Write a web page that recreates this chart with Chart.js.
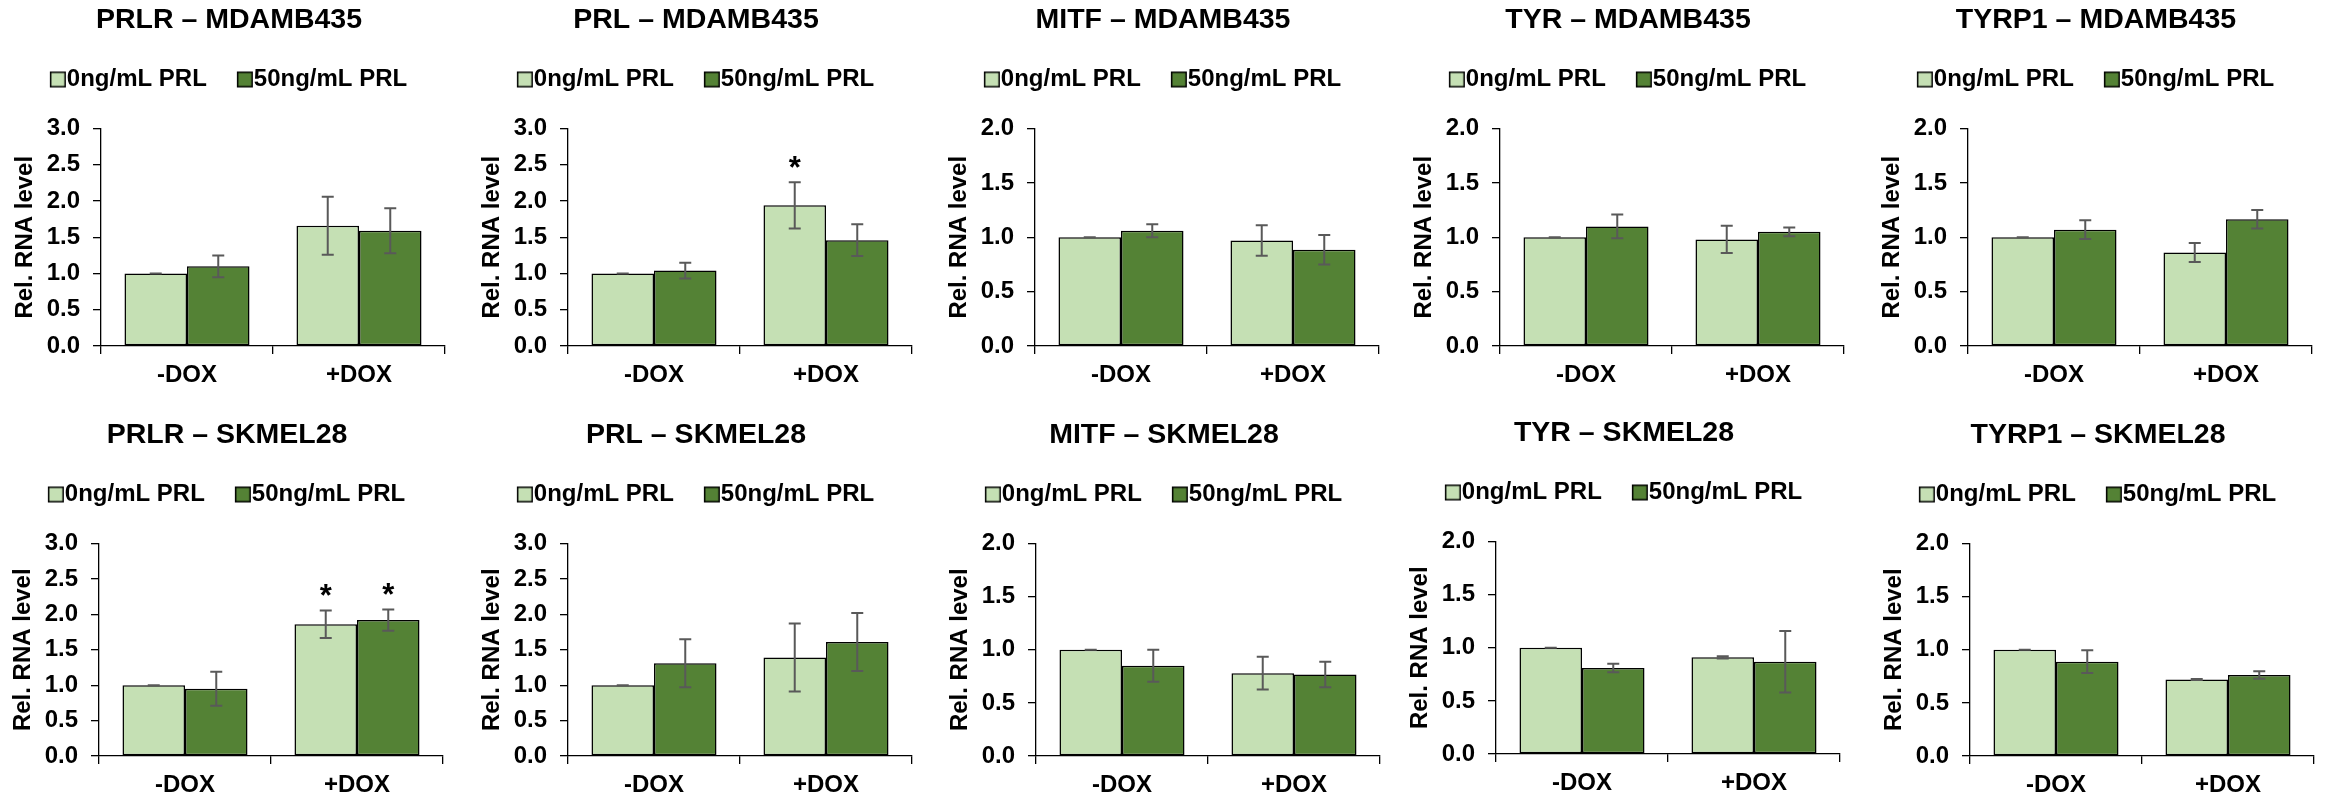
<!DOCTYPE html>
<html><head><meta charset="utf-8">
<script src="https://cdn.jsdelivr.net/npm/chart.js@4.4.1/dist/chart.umd.min.js"></script>
<style>
html,body{margin:0;padding:0;background:#fff;width:2336px;height:797px;overflow:hidden;position:relative}
canvas{position:absolute}
</style></head><body>
<script>
// ---- data ----
const categories = ['-DOX', '+DOX'];
const seriesNames = ['0ng/mL PRL', '50ng/mL PRL'];
const panelTitles = ['PRLR – MDAMB435', 'PRL – MDAMB435', 'MITF – MDAMB435', 'TYR – MDAMB435', 'TYRP1 – MDAMB435',
  'PRLR – SKMEL28', 'PRL – SKMEL28', 'MITF – SKMEL28', 'TYR – SKMEL28', 'TYRP1 – SKMEL28'];
const yAxisTitle = 'Rel. RNA level';
const yAxisMax = [3, 3, 2, 2, 2, 3, 3, 2, 2, 2];
const yTickStep = 0.5;
const ctrlMeans  = [[1.00,1.66],[1.00,1.94],[1.00,0.97],[1.00,0.98],[1.00,0.86],[1.00,1.86],[1.00,1.39],[1.00,0.78],[1.00,0.91],[1.00,0.72]];
const ctrlErrors = [[0,0.40],[0,0.32],[0,0.14],[0,0.125],[0,0.087],[0,0.195],[0,0.48],[0,0.153],[0,0.01],[0,0.005]];
const prlMeans   = [[1.10,1.59],[1.04,1.46],[1.06,0.885],[1.10,1.05],[1.07,1.165],[0.95,1.92],[1.31,1.61],[0.85,0.766],[0.81,0.868],[0.8875,0.7625]];
const prlErrors  = [[0.15,0.31],[0.11,0.22],[0.06,0.135],[0.11,0.04],[0.087,0.085],[0.24,0.15],[0.34,0.41],[0.15,0.12],[0.04,0.29],[0.107,0.036]];
const ctrlStars  = [['',''],['','*'],['',''],['',''],['',''],['','*'],['',''],['',''],['',''],['','']];
const prlStars   = [['',''],['',''],['',''],['',''],['',''],['','*'],['',''],['',''],['',''],['','']];

// ---- layout (not data) ----
const panelLeft = [0, 467, 934, 1399, 1867, -2, 467, 935, 1395, 1869];
const panelTop  = [0, 0, 0, 0, 0, 415, 415, 415, 413, 415];
const plotHeight = [218, 218, 218, 218, 218, 213, 213, 213, 213, 213];
const CANVAS_W = 467;
const TOP_ROW_H = 400;

const FONT = "'Liberation Sans', Arial, Helvetica, sans-serif";
Chart.defaults.font.family = FONT;
Chart.defaults.color = '#000';

const LIGHT = '#C5E0B4', DARK = '#548235';

// legend swatch image: square sits at the right of the image so it hugs the label text
function legendSwatch(color) {
  const c = document.createElement('canvas');
  c.width = 28; c.height = 18;
  const g = c.getContext('2d');
  g.fillStyle = color;
  g.fillRect(11.75, 1.75, 14.5, 14.5);
  g.strokeStyle = '#000'; g.lineWidth = 1.5;
  g.strokeRect(11.75, 1.75, 14.5, 14.5);
  return c;
}
const lightSwatch = legendSwatch(LIGHT);
const darkSwatch = legendSwatch(DARK);

const errorBarPlugin = {
  id: 'errorBars',
  afterDatasetsDraw(chart) {
    const ctx = chart.ctx;
    const ys = chart.scales.y;
    chart.data.datasets.forEach((ds, di) => {
      const meta = chart.getDatasetMeta(di);
      meta.data.forEach((bar, j) => {
        const m = ds.data[j], e = ds.errors[j];
        const yt = ys.getPixelForValue(m + e), yb = ys.getPixelForValue(m - e);
        const x = bar.x;
        ctx.save();
        ctx.strokeStyle = '#595959';
        ctx.lineWidth = 2;
        ctx.beginPath();
        ctx.moveTo(x, yt); ctx.lineTo(x, yb);
        ctx.moveTo(x - 6, yt); ctx.lineTo(x + 6, yt);
        ctx.moveTo(x - 6, yb); ctx.lineTo(x + 6, yb);
        ctx.stroke();
        if (ds.stars[j]) {
          ctx.fillStyle = '#000';
          ctx.font = 'bold 31px ' + FONT;
          ctx.textAlign = 'center';
          ctx.textBaseline = 'alphabetic';
          const mt = ctx.measureText(ds.stars[j]);
          const cy = yt - 20;
          ctx.fillText(ds.stars[j], x, cy + (mt.actualBoundingBoxAscent - mt.actualBoundingBoxDescent) / 2);
        }
        ctx.restore();
      });
    });
  }
};

for (let i = 0; i < panelTitles.length; i++) {
  const cv = document.createElement('canvas');
  const H = i < 5 ? TOP_ROW_H : 797 - panelTop[i];
  cv.width = CANVAS_W; cv.height = H;
  cv.style.left = panelLeft[i] + 'px';
  cv.style.top = panelTop[i] + 'px';
  cv.style.width = CANVAS_W + 'px'; cv.style.height = H + 'px';
  document.body.appendChild(cv);
  const xAxisH = H - 128 - plotHeight[i];

  new Chart(cv.getContext('2d'), {
    type: 'bar',
    data: {
      labels: categories,
      datasets: [
        { label: seriesNames[0], data: ctrlMeans[i], errors: ctrlErrors[i], stars: ctrlStars[i],
          backgroundColor: LIGHT, borderColor: '#000', borderWidth: 1.5, borderSkipped: false,
          pointStyle: lightSwatch,
          categoryPercentage: 0.727, barPercentage: 1.0, xAxisID: 'x', yAxisID: 'y' },
        { label: seriesNames[1], data: prlMeans[i], errors: prlErrors[i], stars: prlStars[i],
          backgroundColor: DARK, borderColor: '#000', borderWidth: 1.5, borderSkipped: false,
          pointStyle: darkSwatch,
          categoryPercentage: 0.727, barPercentage: 1.0, xAxisID: 'x', yAxisID: 'y' }
      ]
    },
    options: {
      responsive: false,
      animation: false,
      devicePixelRatio: 1,
      layout: { padding: { left: 13, right: 22, top: 0, bottom: 0 } },
      plugins: {
        tooltip: { enabled: false },
        title: { display: true, text: panelTitles[i], color: '#000',
                 font: { size: 28.5, weight: 'bold', lineHeight: 1.0 }, padding: { top: 6, bottom: 2 } },
        legend: { display: true, position: 'top',
                  labels: { usePointStyle: true, pointStyleWidth: 4, boxWidth: 16, boxHeight: 16,
                            padding: 31, color: '#000',
                            font: { size: 24, weight: 'bold' } } }
      },
      scales: {
        x: {
          type: 'category', position: 'bottom',
          grid: { display: true, drawOnChartArea: false, drawTicks: true, tickLength: 8,
                  color: '#000', lineWidth: 1.3, offset: true },
          border: { display: true, color: '#000', width: 1.3 },
          ticks: { color: '#000', padding: 6.6, font: { size: 24, weight: 'bold' }, maxRotation: 0 },
          afterFit: s => { s.height = xAxisH; }
        },
        x2: {
          type: 'category', position: 'top', display: true,
          grid: { display: false, drawTicks: false }, border: { display: false },
          ticks: { display: false },
          afterFit: s => { s.height = 27; }
        },
        y: {
          type: 'linear', position: 'left', min: 0, max: yAxisMax[i],
          grid: { display: true, drawOnChartArea: false, drawTicks: true, tickLength: 8,
                  color: '#000', lineWidth: 1.3 },
          border: { display: true, color: '#000', width: 1.3 },
          ticks: { stepSize: yTickStep, padding: 13, color: '#000',
                   font: { size: 24, weight: 'bold' }, callback: v => Number(v).toFixed(1) },
          title: { display: true, text: yAxisTitle, color: '#000',
                   font: { size: 24, weight: 'bold' }, padding: { top: -2, bottom: 0 } },
          afterFit: s => { s.width = 88; }
        }
      }
    },
    plugins: [errorBarPlugin]
  });
}
</script>
</body></html>
